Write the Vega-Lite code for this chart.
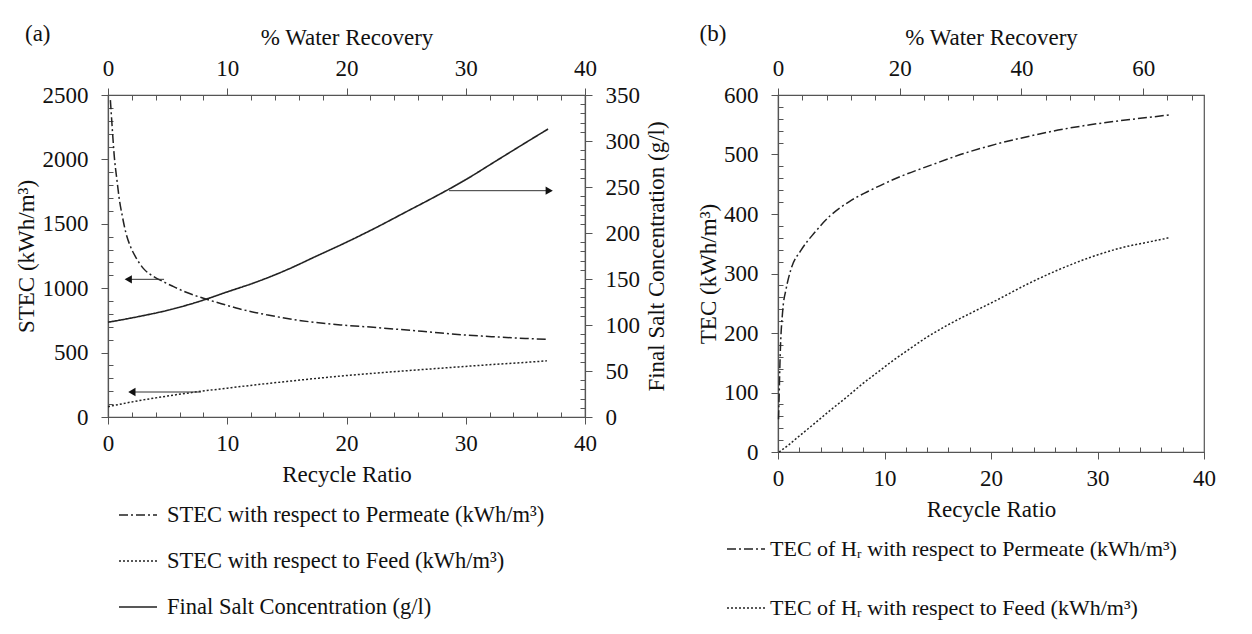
{
  "$schema": "https://vega.github.io/schema/vega-lite/v6.json",
  "background": "white",
  "padding": {"left": 14, "top": 22, "right": 5, "bottom": 5},
  "config": {
    "font": "Liberation Serif",
    "view": {"stroke": "#555", "strokeWidth": 1.2},
    "axis": {
      "labelFont": "Liberation Serif", "titleFont": "Liberation Serif",
      "labelFontSize": 23, "titleFontSize": 23, "titleFontWeight": "normal",
      "labelColor": "#111", "titleColor": "#111",
      "domainColor": "#555", "domainWidth": 1.2, "tickColor": "#555", "tickWidth": 1,
      "grid": false, "labelFlush": false, "labelOverlap": false, "labelBound": false,
      "labelPadding": 8, "titlePadding": 8, "format": "d"
    },
    "axisLeft": {"labelPadding": 13, "titlePadding": 4},
    "axisRight": {"labelPadding": 13, "titlePadding": 6},
    "legend": {
      "labelFont": "Liberation Serif", "labelFontSize": 22.5, "labelColor": "#111",
      "labelLimit": 700, "symbolType": "stroke", "symbolSize": 1444,
      "symbolStrokeColor": "#222", "symbolStrokeWidth": 1.4, "labelOffset": 9
    },
    "line": {"interpolate": "monotone"},
    "title": {"font": "Liberation Serif", "fontSize": 23, "fontWeight": "normal", "color": "#111", "anchor": "start", "frame": "bounds", "offset": -20}
  },
  "datasets": {
    "stecA": [
      {"series": "STEC with respect to Permeate (kWh/m³)", "rr": 0.2, "value": 2460},
      {"series": "STEC with respect to Permeate (kWh/m³)", "rr": 0.35, "value": 2250},
      {"series": "STEC with respect to Permeate (kWh/m³)", "rr": 0.53, "value": 2020},
      {"series": "STEC with respect to Permeate (kWh/m³)", "rr": 0.75, "value": 1840},
      {"series": "STEC with respect to Permeate (kWh/m³)", "rr": 0.95, "value": 1690},
      {"series": "STEC with respect to Permeate (kWh/m³)", "rr": 1.2, "value": 1560},
      {"series": "STEC with respect to Permeate (kWh/m³)", "rr": 1.5, "value": 1430},
      {"series": "STEC with respect to Permeate (kWh/m³)", "rr": 1.9, "value": 1320},
      {"series": "STEC with respect to Permeate (kWh/m³)", "rr": 2.3, "value": 1245},
      {"series": "STEC with respect to Permeate (kWh/m³)", "rr": 3.0, "value": 1150},
      {"series": "STEC with respect to Permeate (kWh/m³)", "rr": 3.8, "value": 1092},
      {"series": "STEC with respect to Permeate (kWh/m³)", "rr": 4.6, "value": 1052},
      {"series": "STEC with respect to Permeate (kWh/m³)", "rr": 5.5, "value": 1012},
      {"series": "STEC with respect to Permeate (kWh/m³)", "rr": 6.5, "value": 970},
      {"series": "STEC with respect to Permeate (kWh/m³)", "rr": 8.0, "value": 922},
      {"series": "STEC with respect to Permeate (kWh/m³)", "rr": 9.5, "value": 880},
      {"series": "STEC with respect to Permeate (kWh/m³)", "rr": 11.0, "value": 840},
      {"series": "STEC with respect to Permeate (kWh/m³)", "rr": 13.4, "value": 792},
      {"series": "STEC with respect to Permeate (kWh/m³)", "rr": 16.2, "value": 748},
      {"series": "STEC with respect to Permeate (kWh/m³)", "rr": 19.5, "value": 715},
      {"series": "STEC with respect to Permeate (kWh/m³)", "rr": 22.0, "value": 698},
      {"series": "STEC with respect to Permeate (kWh/m³)", "rr": 24.3, "value": 681},
      {"series": "STEC with respect to Permeate (kWh/m³)", "rr": 27.0, "value": 660},
      {"series": "STEC with respect to Permeate (kWh/m³)", "rr": 29.9, "value": 637},
      {"series": "STEC with respect to Permeate (kWh/m³)", "rr": 32.5, "value": 622},
      {"series": "STEC with respect to Permeate (kWh/m³)", "rr": 35.0, "value": 610},
      {"series": "STEC with respect to Permeate (kWh/m³)", "rr": 36.8, "value": 603},
      {"series": "STEC with respect to Feed (kWh/m³)", "rr": 0, "value": 80},
      {"series": "STEC with respect to Feed (kWh/m³)", "rr": 2, "value": 117},
      {"series": "STEC with respect to Feed (kWh/m³)", "rr": 5, "value": 163},
      {"series": "STEC with respect to Feed (kWh/m³)", "rr": 7.5, "value": 196},
      {"series": "STEC with respect to Feed (kWh/m³)", "rr": 10, "value": 224},
      {"series": "STEC with respect to Feed (kWh/m³)", "rr": 12.5, "value": 251},
      {"series": "STEC with respect to Feed (kWh/m³)", "rr": 15, "value": 276},
      {"series": "STEC with respect to Feed (kWh/m³)", "rr": 17.5, "value": 300},
      {"series": "STEC with respect to Feed (kWh/m³)", "rr": 20, "value": 322},
      {"series": "STEC with respect to Feed (kWh/m³)", "rr": 22.5, "value": 341},
      {"series": "STEC with respect to Feed (kWh/m³)", "rr": 25, "value": 359},
      {"series": "STEC with respect to Feed (kWh/m³)", "rr": 27.5, "value": 376},
      {"series": "STEC with respect to Feed (kWh/m³)", "rr": 30, "value": 393},
      {"series": "STEC with respect to Feed (kWh/m³)", "rr": 32.5, "value": 409},
      {"series": "STEC with respect to Feed (kWh/m³)", "rr": 35, "value": 424},
      {"series": "STEC with respect to Feed (kWh/m³)", "rr": 36.8, "value": 436}
    ],
    "saltA": [
      {"series": "Final Salt Concentration (g/l)", "rr": 0, "conc": 103},
      {"series": "Final Salt Concentration (g/l)", "rr": 2.5, "conc": 109},
      {"series": "Final Salt Concentration (g/l)", "rr": 5, "conc": 116},
      {"series": "Final Salt Concentration (g/l)", "rr": 7.5, "conc": 125},
      {"series": "Final Salt Concentration (g/l)", "rr": 10, "conc": 136},
      {"series": "Final Salt Concentration (g/l)", "rr": 12.5, "conc": 147},
      {"series": "Final Salt Concentration (g/l)", "rr": 15, "conc": 160},
      {"series": "Final Salt Concentration (g/l)", "rr": 17.5, "conc": 175},
      {"series": "Final Salt Concentration (g/l)", "rr": 20, "conc": 190},
      {"series": "Final Salt Concentration (g/l)", "rr": 22.5, "conc": 206},
      {"series": "Final Salt Concentration (g/l)", "rr": 25, "conc": 223},
      {"series": "Final Salt Concentration (g/l)", "rr": 27.5, "conc": 240},
      {"series": "Final Salt Concentration (g/l)", "rr": 30, "conc": 258},
      {"series": "Final Salt Concentration (g/l)", "rr": 32.5, "conc": 278},
      {"series": "Final Salt Concentration (g/l)", "rr": 35, "conc": 298},
      {"series": "Final Salt Concentration (g/l)", "rr": 36.9, "conc": 313}
    ],
    "arrowsA": [
      {"rr": 1.7, "rr2": 4.7, "value": 1069},
      {"rr": 2.0, "rr2": 7.8, "value": 194}
    ],
    "arrowSalt": [
      {"rr": 37.0, "rr2": 28.6, "conc": 246}
    ],
    "tecB": [
      {"series": "TEC of Hᵣ with respect to Permeate (kWh/m³)", "rr": 0.05, "value": 55},
      {"series": "TEC of Hᵣ with respect to Permeate (kWh/m³)", "rr": 0.1, "value": 90},
      {"series": "TEC of Hᵣ with respect to Permeate (kWh/m³)", "rr": 0.2, "value": 160},
      {"series": "TEC of Hᵣ with respect to Permeate (kWh/m³)", "rr": 0.45, "value": 239},
      {"series": "TEC of Hᵣ with respect to Permeate (kWh/m³)", "rr": 0.75, "value": 273},
      {"series": "TEC of Hᵣ with respect to Permeate (kWh/m³)", "rr": 1.2, "value": 306},
      {"series": "TEC of Hᵣ with respect to Permeate (kWh/m³)", "rr": 2.2, "value": 340},
      {"series": "TEC of Hᵣ with respect to Permeate (kWh/m³)", "rr": 3.4, "value": 368},
      {"series": "TEC of Hᵣ with respect to Permeate (kWh/m³)", "rr": 4.9, "value": 397},
      {"series": "TEC of Hᵣ with respect to Permeate (kWh/m³)", "rr": 6.7, "value": 421},
      {"series": "TEC of Hᵣ with respect to Permeate (kWh/m³)", "rr": 8.8, "value": 441},
      {"series": "TEC of Hᵣ with respect to Permeate (kWh/m³)", "rr": 11.5, "value": 463},
      {"series": "TEC of Hᵣ with respect to Permeate (kWh/m³)", "rr": 14.5, "value": 483},
      {"series": "TEC of Hᵣ with respect to Permeate (kWh/m³)", "rr": 17.5, "value": 502},
      {"series": "TEC of Hᵣ with respect to Permeate (kWh/m³)", "rr": 20.4, "value": 517},
      {"series": "TEC of Hᵣ with respect to Permeate (kWh/m³)", "rr": 23.4, "value": 530},
      {"series": "TEC of Hᵣ with respect to Permeate (kWh/m³)", "rr": 26.3, "value": 541},
      {"series": "TEC of Hᵣ with respect to Permeate (kWh/m³)", "rr": 29.3, "value": 550},
      {"series": "TEC of Hᵣ with respect to Permeate (kWh/m³)", "rr": 32.2, "value": 557},
      {"series": "TEC of Hᵣ with respect to Permeate (kWh/m³)", "rr": 35.1, "value": 563},
      {"series": "TEC of Hᵣ with respect to Permeate (kWh/m³)", "rr": 36.9, "value": 567},
      {"series": "TEC of Hᵣ with respect to Feed (kWh/m³)", "rr": 0.1, "value": 0},
      {"series": "TEC of Hᵣ with respect to Feed (kWh/m³)", "rr": 1.0, "value": 12},
      {"series": "TEC of Hᵣ with respect to Feed (kWh/m³)", "rr": 1.94, "value": 26},
      {"series": "TEC of Hᵣ with respect to Feed (kWh/m³)", "rr": 3.5, "value": 49},
      {"series": "TEC of Hᵣ with respect to Feed (kWh/m³)", "rr": 4.9, "value": 70},
      {"series": "TEC of Hᵣ with respect to Feed (kWh/m³)", "rr": 6.5, "value": 93},
      {"series": "TEC of Hᵣ with respect to Feed (kWh/m³)", "rr": 7.9, "value": 114},
      {"series": "TEC of Hᵣ with respect to Feed (kWh/m³)", "rr": 9.5, "value": 136},
      {"series": "TEC of Hᵣ with respect to Feed (kWh/m³)", "rr": 10.9, "value": 155},
      {"series": "TEC of Hᵣ with respect to Feed (kWh/m³)", "rr": 12.5, "value": 175},
      {"series": "TEC of Hᵣ with respect to Feed (kWh/m³)", "rr": 13.9, "value": 192},
      {"series": "TEC of Hᵣ with respect to Feed (kWh/m³)", "rr": 16.0, "value": 214},
      {"series": "TEC of Hᵣ with respect to Feed (kWh/m³)", "rr": 18.5, "value": 237},
      {"series": "TEC of Hᵣ with respect to Feed (kWh/m³)", "rr": 20.4, "value": 254},
      {"series": "TEC of Hᵣ with respect to Feed (kWh/m³)", "rr": 23.4, "value": 282},
      {"series": "TEC of Hᵣ with respect to Feed (kWh/m³)", "rr": 26.3, "value": 306},
      {"series": "TEC of Hᵣ with respect to Feed (kWh/m³)", "rr": 29.3, "value": 327},
      {"series": "TEC of Hᵣ with respect to Feed (kWh/m³)", "rr": 32.2, "value": 343},
      {"series": "TEC of Hᵣ with respect to Feed (kWh/m³)", "rr": 35.1, "value": 354},
      {"series": "TEC of Hᵣ with respect to Feed (kWh/m³)", "rr": 36.7, "value": 360}
    ]
  },
  "spacing": 26,
  "resolve": {"scale": {"strokeDash": "independent"}, "legend": {"strokeDash": "independent"}},
  "hconcat": [
    {
      "width": 477,
      "height": 322,
      "title": {"text": "(a)", "dx": 10},
      "resolve": {"scale": {"x": "independent", "y": "independent"}},
      "layer": [
        {
          "encoding": {
            "x": {"field": "rr", "type": "quantitative", "scale": {"domain": [0, 40], "nice": false},
              "axis": {"orient": "bottom", "title": "Recycle Ratio",
                "values": [0,2,4,6,8,10,12,14,16,18,20,22,24,26,28,30,32,34,36,38,40],
                "labelExpr": "datum.value % 10 === 0 ? datum.label : ''",
                "tickSize": {"condition": {"test": "datum.value % 10 === 0", "value": 7}, "value": -5}}},
            "y": {"field": "value", "type": "quantitative", "scale": {"domain": [0, 2500], "nice": false},
              "axis": {"orient": "left", "title": "STEC (kWh/m³)",
                "values": [0,100,200,300,400,500,600,700,800,900,1000,1100,1200,1300,1400,1500,1600,1700,1800,1900,2000,2100,2200,2300,2400,2500],
                "labelExpr": "datum.value % 500 === 0 ? datum.label : ''",
                "tickSize": {"condition": {"test": "datum.value % 500 === 0", "value": 7}, "value": -5}}}
          },
          "layer": [
            {
              "data": {"name": "stecA"},
              "mark": {"type": "line", "color": "#222", "strokeWidth": 1.5},
              "encoding": {
                "strokeDash": {"field": "series", "type": "nominal",
                  "scale": {"domain": ["STEC with respect to Permeate (kWh/m³)", "STEC with respect to Feed (kWh/m³)", "Final Salt Concentration (g/l)"],
                    "range": [[9, 3, 2, 3], [2, 2], [1, 0]]},
                  "legend": {"orient": "none", "legendX": 10, "legendY": 400, "direction": "vertical", "title": null, "rowPadding": 14}}
              }
            },
            {
              "data": {"name": "arrowsA"},
              "mark": {"type": "rule", "color": "#333", "strokeWidth": 1},
              "encoding": {"x2": {"field": "rr2"}}
            },
            {
              "data": {"name": "arrowsA"},
              "mark": {"type": "point", "shape": "triangle-left", "filled": true, "size": 70, "color": "#111", "opacity": 1}
            }
          ]
        },
        {
          "encoding": {
            "x": {"field": "rr", "type": "quantitative", "scale": {"domain": [0, 40], "nice": false}, "axis": null},
            "y": {"field": "conc", "type": "quantitative", "scale": {"domain": [0, 350], "nice": false},
              "axis": {"orient": "right", "title": "Final Salt Concentration (g/l)", "titleAngle": 270, "titleBaseline": "top",
                "values": [0,10,20,30,40,50,60,70,80,90,100,110,120,130,140,150,160,170,180,190,200,210,220,230,240,250,260,270,280,290,300,310,320,330,340,350],
                "labelExpr": "datum.value % 50 === 0 ? datum.label : ''",
                "tickSize": {"condition": {"test": "datum.value % 50 === 0", "value": 7}, "value": -5}}}
          },
          "layer": [
            {
              "data": {"name": "saltA"},
              "mark": {"type": "line", "color": "#222", "strokeWidth": 1.6},
              "encoding": {"strokeDash": {"field": "series", "type": "nominal"}}
            },
            {
              "data": {"name": "arrowSalt"},
              "mark": {"type": "rule", "color": "#333", "strokeWidth": 1},
              "encoding": {"x2": {"field": "rr2"}}
            },
            {
              "data": {"name": "arrowSalt"},
              "mark": {"type": "point", "shape": "triangle-right", "filled": true, "size": 70, "color": "#111", "opacity": 1}
            }
          ]
        },
        {
          "data": {"values": [{}]},
          "mark": {"type": "rule", "opacity": 0},
          "encoding": {
            "x": {"datum": 0, "type": "quantitative", "scale": {"domain": [0, 40], "nice": false},
              "axis": {"orient": "top", "title": "% Water Recovery",
                "values": [0,2,4,6,8,10,12,14,16,18,20,22,24,26,28,30,32,34,36,38,40],
                "labelExpr": "datum.value % 10 === 0 ? datum.label : ''",
                "tickSize": {"condition": {"test": "datum.value % 10 === 0", "value": 7}, "value": -5}}}
          }
        }
      ]
    },
    {
      "width": 426,
      "height": 357,
      "title": {"text": "(b)", "dx": 2},
      "resolve": {"scale": {"x": "independent"}},
      "layer": [
        {
          "data": {"name": "tecB"},
          "mark": {"type": "line", "color": "#222", "strokeWidth": 1.5},
          "encoding": {
            "x": {"field": "rr", "type": "quantitative", "scale": {"domain": [0, 40], "nice": false},
              "axis": {"orient": "bottom", "title": "Recycle Ratio",
                "values": [0,2,4,6,8,10,12,14,16,18,20,22,24,26,28,30,32,34,36,38,40],
                "labelExpr": "datum.value % 10 === 0 ? datum.label : ''",
                "tickSize": {"condition": {"test": "datum.value % 10 === 0", "value": 7}, "value": -5}}},
            "y": {"field": "value", "type": "quantitative", "scale": {"domain": [0, 600], "nice": false},
              "axis": {"orient": "left", "title": "TEC (kWh/m³)", "titlePadding": 3,
                "values": [0,20,40,60,80,100,120,140,160,180,200,220,240,260,280,300,320,340,360,380,400,420,440,460,480,500,520,540,560,580,600],
                "labelExpr": "datum.value % 100 === 0 ? datum.label : ''",
                "tickSize": {"condition": {"test": "datum.value % 100 === 0", "value": 7}, "value": -5}}},
            "strokeDash": {"field": "series", "type": "nominal",
              "scale": {"domain": ["TEC of Hᵣ with respect to Permeate (kWh/m³)", "TEC of Hᵣ with respect to Feed (kWh/m³)"],
                "range": [[9, 3, 2, 3], [2, 2]]},
              "legend": {"orient": "none", "legendX": -52, "legendY": 434, "direction": "vertical", "title": null, "rowPadding": 28, "labelFontSize": 22, "labelOffset": 4}}
          }
        },
        {
          "data": {"values": [{}]},
          "mark": {"type": "rule", "opacity": 0},
          "encoding": {
            "x": {"datum": 0, "type": "quantitative", "scale": {"domain": [0, 70], "nice": false},
              "axis": {"orient": "top", "title": "% Water Recovery",
                "values": [0,4,8,12,16,20,24,28,32,36,40,44,48,52,56,60,64,68],
                "labelExpr": "datum.value % 20 === 0 ? datum.label : ''",
                "tickSize": {"condition": {"test": "datum.value % 20 === 0", "value": 7}, "value": -5}}}
          }
        }
      ]
    }
  ]
}
